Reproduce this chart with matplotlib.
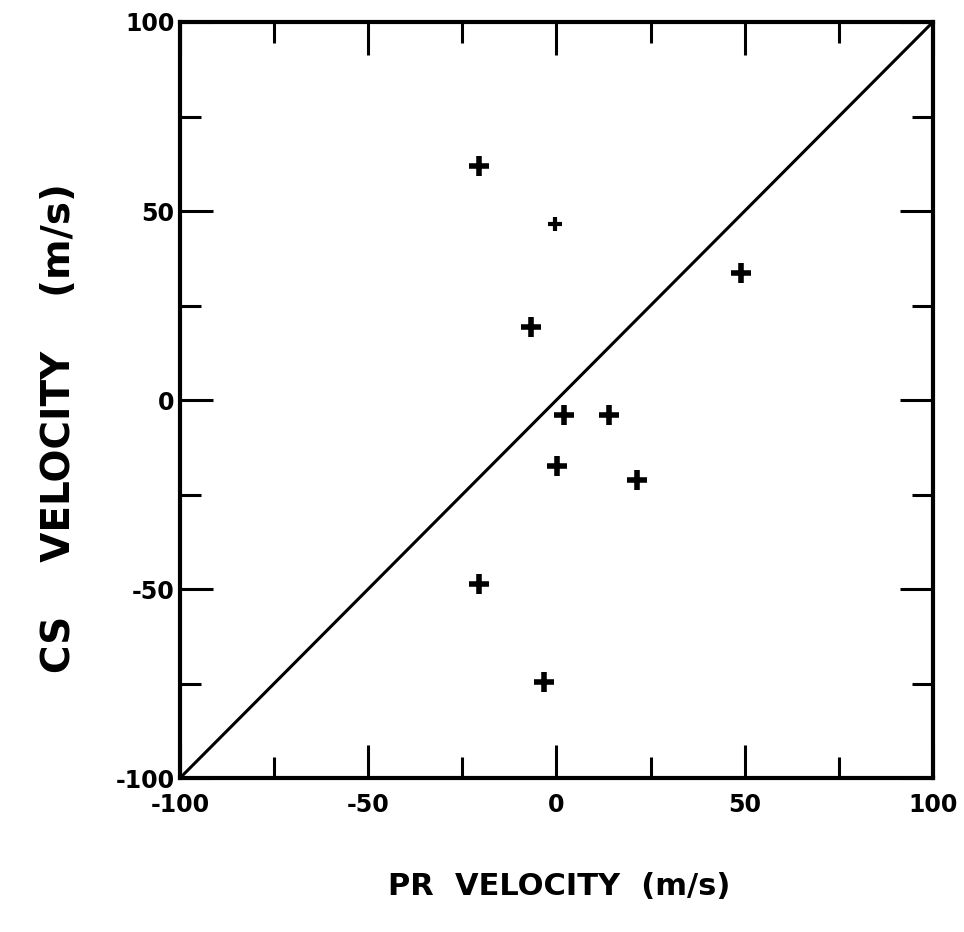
import matplotlib.pyplot as plt
from matplotlib.ticker import MultipleLocator

# data
pr_velocity = [-20.6, 49.0, -6.8, 2.0, 13.9, 0.1, 21.4, -20.6, -3.3]
cs_velocity = [61.9, 33.6, 19.3, -4.0, -4.0, -17.5, -21.2, -48.7, -74.6]
# the smudged point near the top
odd_pr = [-0.4]
odd_cs = [46.6]
line_x = [-100, 100]
line_y = [-100, 100]

plt.rcParams['font.family'] = ['DejaVu Sans']
plt.rcParams['font.weight'] = 'bold'
plt.rcParams['axes.unicode_minus'] = False

fig = plt.figure(figsize=(9.64, 9.32), dpi=100)
ax = fig.add_axes([0.1867, 0.1652, 0.7811, 0.8112])

ax.plot(line_x, line_y, color='black', lw=2.2)
ax.plot(pr_velocity, cs_velocity, ls='none', marker='+', ms=14, mew=4, color='black')
ax.plot(odd_pr, odd_cs, ls='none', marker='+', ms=10, mew=3, color='black')

ax.set_xlim(-100, 100)
ax.set_ylim(-100, 100)
ax.xaxis.set_major_locator(MultipleLocator(50))
ax.yaxis.set_major_locator(MultipleLocator(50))
ax.xaxis.set_minor_locator(MultipleLocator(25))
ax.yaxis.set_minor_locator(MultipleLocator(25))
ax.tick_params(which='both', direction='in', top=True, right=True, width=2.2, labelsize=17)
ax.tick_params(axis='x', pad=11)
ax.tick_params(axis='y', pad=4)
ax.tick_params(which='major', length=24)
ax.tick_params(which='minor', length=15)
for s in ax.spines.values():
    s.set_linewidth(3)

ax.set_xlabel('PR  VELOCITY  (m/s)', fontsize=22, fontweight='bold')
ax.set_ylabel('CS    VELOCITY    (m/s)', fontsize=28, fontweight='bold')
ax.xaxis.set_label_coords(0.503, -0.124)
ax.yaxis.set_label_coords(-0.135, 0.463)

fig.savefig('out.png', dpi=100)
